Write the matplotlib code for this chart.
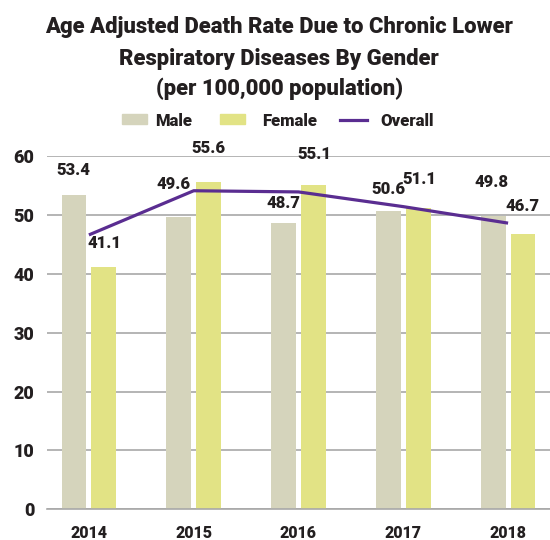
import matplotlib
matplotlib.use("Agg")
import matplotlib.pyplot as plt
from matplotlib.patches import Rectangle
from matplotlib.lines import Line2D
import numpy as np

plt.rcParams['font.family'] = ['Roboto', 'DejaVu Sans']

years = ["2014", "2015", "2016", "2017", "2018"]
male = [53.4, 49.6, 48.7, 50.6, 49.8]
female = [41.1, 55.6, 55.1, 51.1, 46.7]
overall = [46.6, 54.1, 53.9, 51.4, 48.6]
yticks = [0, 10, 20, 30, 40, 50, 60]

# label nudges (pixels) for the value labels: (dx, dy) per bar
male_nudge = [(-1, 25), (-5, 33), (0, 20), (0, 22), (-2, 34)]
female_nudge = [(1, 24), (0, 34), (1, 31), (1, 29), (0, 28)]

MALE_C = "#D5D4BC"
FEMALE_C = "#E2E385"
LINE_C = "#5A2D91"
TEXT_C = "#231F20"
GRID_C = "#A8A8A8"
WEIGHT = 'heavy'

W, H = 550, 540
fig = plt.figure(figsize=(5.5, 5.4), dpi=100)

def fx(px):
    return px / W

def fy(py):
    return 1 - py / H

ax = fig.add_axes([fx(47), fy(509.3), fx(550) - fx(47), fy(156) - fy(509.3)])
x = np.arange(len(years))
bw = 0.236
off = 0.142

ax.bar(x - off, male, width=bw, color=MALE_C, zorder=2)
ax.bar(x + off, female, width=bw, color=FEMALE_C, zorder=2)
ax.plot(x, overall, color=LINE_C, lw=2.3, zorder=3, solid_capstyle='butt')

for i in range(len(years)):
    dx, dy = male_nudge[i]
    ax.annotate(f"{male[i]:.1f}", (x[i] - off, male[i]), xytext=(dx, dy),
                textcoords='offset pixels', ha='center', va='center',
                fontsize=12, fontweight=WEIGHT, color=TEXT_C, zorder=4,
                annotation_clip=False)
    dx, dy = female_nudge[i]
    ax.annotate(f"{female[i]:.1f}", (x[i] + off, female[i]), xytext=(dx, dy),
                textcoords='offset pixels', ha='center', va='center',
                fontsize=12, fontweight=WEIGHT, color=TEXT_C, zorder=4,
                annotation_clip=False)

ax.set_xlim(-0.4, 4.4)
ax.set_ylim(0, 60)
ax.set_yticks(yticks)
ax.set_xticks(x)
ax.set_xticklabels(years)
ax.yaxis.grid(True, color=GRID_C, lw=1.2, zorder=0)
ax.set_axisbelow(True)
for s in ["top", "right", "left"]:
    ax.spines[s].set_visible(False)
ax.spines["bottom"].set_color(GRID_C)
ax.spines["bottom"].set_linewidth(1.2)
ax.tick_params(axis='both', length=0, colors=TEXT_C)
ax.tick_params(axis='y', pad=9, labelsize=13)
ax.tick_params(axis='x', pad=11, labelsize=11.5)
for t in ax.get_xticklabels() + ax.get_yticklabels():
    t.set_fontweight(WEIGHT)

# title
title_lines = ["Age Adjusted Death Rate Due to Chronic Lower",
               "Respiratory Diseases By Gender",
               "(per 100,000 population)"]
baselines = [33.3, 65.0, 95.5]
for line, b in zip(title_lines, baselines):
    fig.text(fx(279), fy(b), line, ha='center', va='baseline',
             fontsize=15.8, fontweight=WEIGHT, color=TEXT_C)

# legend
fig.patches.append(Rectangle((fx(122), fy(124)), fx(25), fy(114) - fy(124),
                             transform=fig.transFigure, color=MALE_C))
fig.text(fx(155), fy(125.5), "Male", ha='left', va='baseline', fontsize=12,
         fontweight=WEIGHT, color=TEXT_C)
fig.patches.append(Rectangle((fx(220), fy(124)), fx(25), fy(114) - fy(124),
                             transform=fig.transFigure, color=FEMALE_C))
fig.text(fx(262), fy(125.5), "Female", ha='left', va='baseline', fontsize=12,
         fontweight=WEIGHT, color=TEXT_C)
fig.lines.append(Line2D([fx(340), fx(367)], [fy(119.5), fy(119.5)],
                        transform=fig.transFigure, color=LINE_C, lw=2.3))
fig.text(fx(380), fy(125.5), "Overall", ha='left', va='baseline', fontsize=12,
         fontweight=WEIGHT, color=TEXT_C)

fig.savefig("out.png", dpi=100, facecolor='white')
